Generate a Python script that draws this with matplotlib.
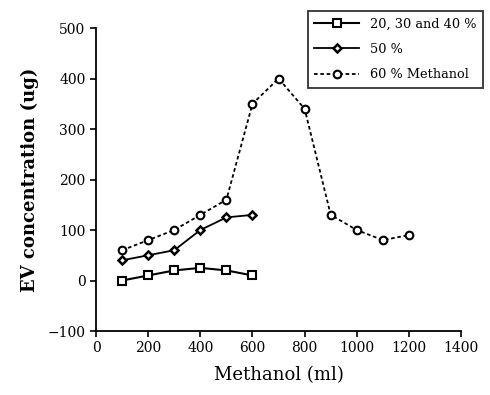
import matplotlib.pyplot as plt

# EV concentration vs methanol volume
x_low = [100, 200, 300, 400, 500, 600]
ev_20_40 = [0, 10, 20, 25, 20, 10]
ev_50 = [40, 50, 60, 100, 125, 130]

x_60 = [100, 200, 300, 400, 500, 600, 700, 800, 900, 1000, 1100, 1200]
ev_60 = [60, 80, 100, 130, 160, 350, 400, 340, 130, 100, 80, 90]

plt.rcParams['font.family'] = 'DejaVu Serif'

fig = plt.figure(figsize=(4.9, 3.95), dpi=100)
ax = fig.add_axes([0.196, 0.162, 0.745, 0.767])

ax.plot(x_low, ev_20_40, color='black', lw=1.5, marker='s', ms=5.5,
        mfc='white', mec='black', mew=1.5, label='20, 30 and 40 %')
ax.plot(x_low, ev_50, color='black', lw=1.3, marker='D', ms=4.2,
        mfc='white', mec='black', mew=1.8, label='50 %')
ax.plot(x_60, ev_60, color='black', lw=1.3, ls=(0, (2, 1.5)), marker='o', ms=5.5,
        mfc='white', mec='black', mew=1.5, label='60 % Methanol')

ax.set_xlim(0, 1400)
ax.set_ylim(-100, 500)
ax.set_xticks(range(0, 1401, 200))
ax.set_yticks(range(-100, 501, 100))
for s in ['top', 'right']:
    ax.spines[s].set_visible(False)
for s in ['left', 'bottom']:
    ax.spines[s].set_linewidth(1.3)
ax.tick_params(direction='out', length=4, width=1.2, labelsize=10)

ax.set_xlabel('Methanol (ml)', fontsize=13, labelpad=8)
ax.set_ylabel('EV concentration (ug)', fontsize=13, fontweight='bold', labelpad=6)

leg = fig.legend(loc='upper right', bbox_to_anchor=(0.998, 0.988), fontsize=9.3,
                 frameon=True, fancybox=False, edgecolor='black',
                 handlelength=3.5, labelspacing=0.95, borderpad=0.5)
leg.get_frame().set_linewidth(1.3)

fig.savefig('out.png', dpi=100)
